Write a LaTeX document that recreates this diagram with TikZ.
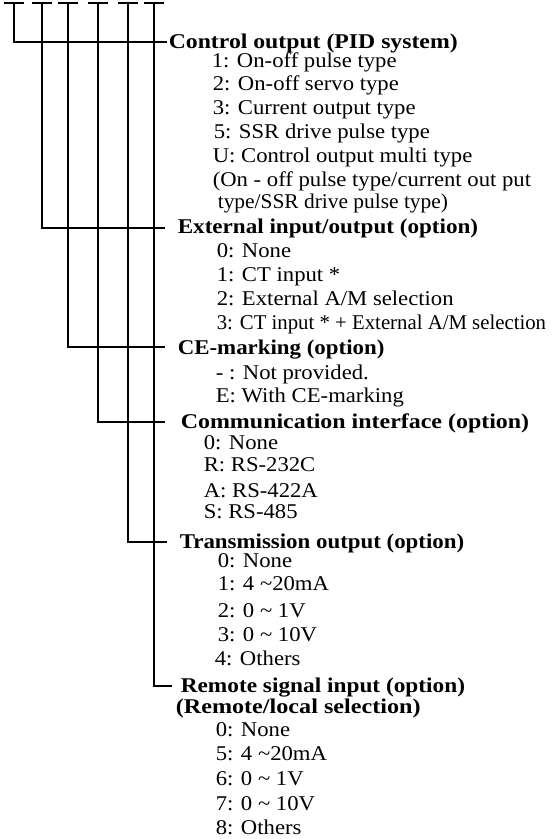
\documentclass[tikz,border=0pt]{standalone}
\usepackage{fontspec}
\setmainfont{Liberation Serif}
\newcommand\tld{\textasciitilde}
\begin{document}
\begin{tikzpicture}[x=1pt,y=-1pt,line width=1.6pt,
  itm/.style={anchor=base west,inner sep=0pt,font={\fontsize{21}{24}\selectfont\addfontfeature{FakeStretch=#1}}},
  itm/.default=1.08,
  ttl/.style={anchor=base west,inner sep=0pt,font={\fontsize{21}{24}\selectfont\bfseries\addfontfeature{FakeStretch=#1}}},
  ttl/.default=1.1]
\useasboundingbox (0,0) rectangle (559,839);

% tops of the six code positions
\foreach \n/\x in {1/14,2/42,3/68,4/98,5/128,6/154}{
  \coordinate (t\n) at (\x,3);
  \coordinate (tl\n) at (\x-10,3);
  \coordinate (tr\n) at (\x+10,3);
  \draw (tl\n) -- (tr\n);
}
% free ends of the branches
\coordinate (e1) at (167,42);
\coordinate (e2) at (165,228);
\coordinate (e3) at (165,347);
\coordinate (e4) at (165,422);
\coordinate (e5) at (167,542);
\coordinate (e6) at (172,686);
\foreach \n in {1,...,6}{ \draw (t\n) |- (e\n); }

% Control output
\node[ttl=1.13] (c0) at (168,48) {Control output (PID system)};
\node[itm] (c1) at (211,67) {1: On-off pulse type};
\node[itm] (c2) at (212,90) {2: On-off servo type};
\node[itm] (c3) at (212,114) {3: Current output type};
\node[itm] (c4) at (213,138) {5: SSR drive pulse type};
\node[itm] (c5) at (212,162) {U: Control output multi type};
\node[itm] (c6) at (212,186) {(On - off pulse type/current out put};
\node[itm=1.02] (c7) at (217,208) {type/SSR drive pulse type)};

% External input/output
\node[ttl=1.1] (x0) at (177,233) {External input/output (option)};
\node[itm] (x1) at (216,257) {0: None};
\node[itm] (x2) at (216,281) {1: CT input *};
\node[itm] (x3) at (216,305) {2: External A/M selection};
\node[itm=0.99] (x4) at (216,329) {3: CT input * + External A/M selection};

% CE-marking
\node[ttl=1.09] (m0) at (177,354) {CE-marking (option)};
\node[itm] (m1) at (215,379) {- : Not provided.};
\node[itm] (m2) at (215,402) {E: With CE-marking};

% Communication interface
\node[ttl=1.14] (k0) at (180,428) {Communication interface (option)};
\node[itm] (k1) at (203,449) {0: None};
\node[itm] (k2) at (203,471) {R: RS-232C};
\node[itm] (k3) at (203,497) {A: RS-422A};
\node[itm] (k4) at (203,518) {S: RS-485};

% Transmission output
\node[ttl=1.09] (r0) at (179,548) {Transmission output (option)};
\node[itm] (r1) at (217,567) {0: None};
\node[itm] (r2) at (217,590) {1: 4 \tld20mA};
\node[itm] (r3) at (217,617) {2: 0 \tld{} 1V};
\node[itm] (r4) at (217,641) {3: 0 \tld{} 10V};
\node[itm] (r5) at (214,665) {4: Others};

% Remote signal input
\node[ttl=1.11] (s0) at (180,692) {Remote signal input (option)};
\node[ttl=1.15] (s1) at (175,713) {(Remote/local selection)};
\node[itm] (s2) at (215,736) {0: None};
\node[itm] (s3) at (215,760) {5: 4 \tld20mA};
\node[itm] (s4) at (215,785) {6: 0 \tld{} 1V};
\node[itm] (s5) at (215,810) {7: 0 \tld{} 10V};
\node[itm] (s6) at (215,834) {8: Others};
\end{tikzpicture}
\end{document}
